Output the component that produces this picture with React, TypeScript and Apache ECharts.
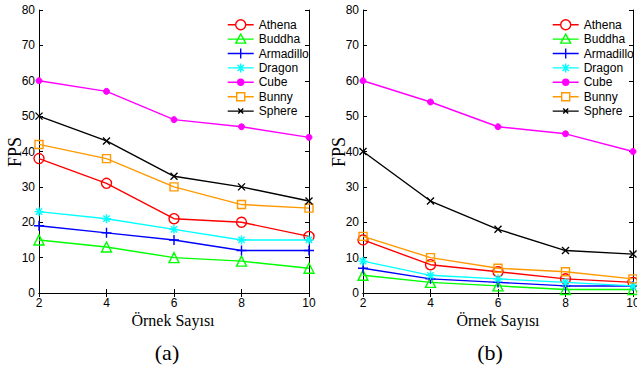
import React, { useEffect, useRef } from "react";
import * as echarts from "echarts";

const xs = [2, 4, 6, 8, 10];
const names = ["Athena", "Buddha", "Armadillo", "Dragon", "Cube", "Bunny", "Sphere"];

const athenaA = [38, 31, 21, 20, 16];
const buddhaA = [15, 13, 10, 9, 7];
const armadilloA = [19, 17, 15, 12, 12];
const dragonA = [23, 21, 18, 15, 15];
const cubeA = [60, 57, 49, 47, 44];
const bunnyA = [42, 38, 30, 25, 24];
const sphereA = [50, 43, 33, 30, 26];

const athenaB = [15, 8, 6, 4, 3];
const buddhaB = [5, 3, 2, 1, 1];
const armadilloB = [7, 4, 3, 2, 2];
const dragonB = [9, 5, 4, 3, 2];
const cubeB = [60, 54, 47, 45, 40];
const bunnyB = [16, 10, 7, 6, 4];
const sphereB = [40, 26, 18, 12, 11];

const yTicks = [0, 10, 20, 30, 40, 50, 60, 70, 80];
const xLabel = "Örnek Sayısı";
const yLabel = "FPS";
const panelLabels = ["(a)", "(b)"];

const colors = ["#ff0000", "#00ff00", "#0000ff", "#00ffff", "#ff00ff", "#ff9900", "#000000"];
const symbols = [
  "circle",
  "triangle",
  "path://M5,0L5,10M0,5L10,5",
  "path://M5,0L5,10M0,5L10,5M1.5,1.5L8.5,8.5M8.5,1.5L1.5,8.5",
  "circle",
  "rect",
  "path://M0,0L10,10M10,0L0,10",
];
const sizes = [10, 10, 10, 9, 6, 8, 7];
const filled = [false, false, false, false, true, false, false];

// legend icons: line plus marker in a 26x14 box
const legendIcons = [
  "path://M0,0M26,14M0,7L8,7M18,7L26,7M8,7A5,5 0 1,0 18,7A5,5 0 1,0 8,7",
  "path://M0,0M26,14M0,7L26,7M13,2L18,11L8,11Z",
  "path://M0,0M26,14M0,7L26,7M13,2L13,12",
  "path://M0,0M26,14M0,7L26,7M13,2.5L13,11.5M9.8,3.8L16.2,10.2M16.2,3.8L9.8,10.2",
  "path://M0,0M26,14M0,7L26,7M10,7A3,3 0 1,0 16,7A3,3 0 1,0 10,7",
  "path://M0,0M26,14M0,7L9,7M17,7L26,7M9,3L17,3L17,11L9,11Z",
  "path://M0,0M26,14M0,7L26,7M10.5,4.5L15.5,9.5M15.5,4.5L10.5,9.5",
];

const setA = [athenaA, buddhaA, armadilloA, dragonA, cubeA, bunnyA, sphereA];
const setB = [athenaB, buddhaB, armadilloB, dragonB, cubeB, bunnyB, sphereB];

export default function App() {
  const ref = useRef<HTMLDivElement>(null);
  useEffect(() => {
    if (!ref.current) return;
    const chart = echarts.init(ref.current, undefined, { renderer: "svg" });
    const sans = "Liberation Sans, Arial, sans-serif";
    const serif = "Liberation Serif, Times New Roman, serif";
    const grids = [
      { left: 39, right: 328, top: 10, bottom: 80, outerBoundsMode: "none", containLabel: false },
      { left: 363, right: 4, top: 10, bottom: 80, outerBoundsMode: "none", containLabel: false },
    ];
    const xAxes: any[] = [];
    const yAxes: any[] = [];
    grids.forEach((_, gi) => {
      xAxes.push({
        type: "value",
        gridIndex: gi,
        min: 2,
        max: 10,
        interval: 2,
        position: "bottom",
        axisLine: { lineStyle: { color: "#000", width: 1 } },
        axisTick: { inside: true, length: 4, lineStyle: { color: "#000" } },
        axisLabel: { color: "#000", fontFamily: sans, fontSize: 12, margin: 4 },
        splitLine: { show: false },
      });
      xAxes.push({
        type: "value",
        gridIndex: gi,
        min: 2,
        max: 10,
        interval: 2,
        position: "top",
        axisLine: { lineStyle: { color: "#000", width: 1 } },
        axisTick: { inside: true, length: 4, lineStyle: { color: "#000" } },
        axisLabel: { show: false },
        splitLine: { show: false },
      });
      yAxes.push({
        type: "value",
        gridIndex: gi,
        min: yTicks[0],
        max: yTicks[yTicks.length - 1],
        interval: 10,
        position: "left",
        axisLine: { lineStyle: { color: "#000", width: 1 } },
        axisTick: { inside: true, length: 4, lineStyle: { color: "#000" } },
        axisLabel: { color: "#000", fontFamily: sans, fontSize: 12, margin: 4 },
        splitLine: { show: false },
      });
      yAxes.push({
        type: "value",
        gridIndex: gi,
        min: 0,
        max: 80,
        interval: 10,
        position: "right",
        axisLine: { lineStyle: { color: "#000", width: 1 } },
        axisTick: { inside: true, length: 4, lineStyle: { color: "#000" } },
        axisLabel: { show: false },
        splitLine: { show: false },
      });
    });

    const series: any[] = [];
    [setA, setB].forEach((set, gi) => {
      set.forEach((vals, i) => {
        const c = colors[i];
        series.push({
          type: "line",
          name: names[i],
          xAxisIndex: gi * 2,
          yAxisIndex: gi * 2,
          data: xs.map((x, k) => [x, vals[k]]),
          symbol: symbols[i],
          symbolSize: sizes[i],
          showAllSymbol: true,
          lineStyle: { color: c, width: 1.4 },
          itemStyle: filled[i]
            ? { color: c, borderColor: c, borderWidth: 1 }
            : { color: "rgba(0,0,0,0)", borderColor: c, borderWidth: 1.4 },
          emphasis: { disabled: true },
          z: 2 + i,
        });
      });
    });

    const legendData = names.map((n, i) => ({
      name: n,
      icon: legendIcons[i],
      itemStyle: {
        color: filled[i] ? colors[i] : "rgba(0,0,0,0)",
        borderColor: colors[i],
        borderWidth: 1.4,
      },
    }));

    const legendCommon = {
      orient: "vertical",
      top: 12,
      itemWidth: 26,
      itemHeight: 14,
      itemGap: -1.0,
      selectedMode: false,
      textStyle: { fontFamily: sans, fontSize: 12, color: "#000", lineHeight: 14 },
      data: legendData,
    };

    const panelCenters = [
      { xl: 173, fps: 15, pl: 167 },
      { xl: 498, fps: 339, pl: 490 },
    ];
    const graphic: any[] = [];
    panelCenters.forEach((p, gi) => {
      graphic.push({
        type: "text",
        x: p.xl,
        y: 320,
        style: { text: xLabel, font: `16px ${serif}`, fill: "#000", align: "center", verticalAlign: "middle" },
      });
      graphic.push({
        type: "text",
        x: p.fps,
        y: 152,
        rotation: Math.PI / 2,
        style: { text: yLabel, font: `18px ${serif}`, fill: "#000", align: "center", verticalAlign: "middle" },
      });
      graphic.push({
        type: "text",
        x: p.pl,
        y: 352,
        style: { text: panelLabels[gi], font: `22px ${serif}`, fill: "#000", align: "center", verticalAlign: "middle" },
      });
    });

    chart.setOption({
      animation: false,
      backgroundColor: "#fff",
      grid: grids,
      xAxis: xAxes,
      yAxis: yAxes,
      legend: [
        { ...legendCommon, left: 222 },
        { ...legendCommon, left: 547 },
      ],
      series,
      graphic,
    });
    return () => chart.dispose();
  }, []);
  return <div ref={ref} style={{ width: 637, height: 373, position: "absolute", left: 0, top: 0 }} />;
}
